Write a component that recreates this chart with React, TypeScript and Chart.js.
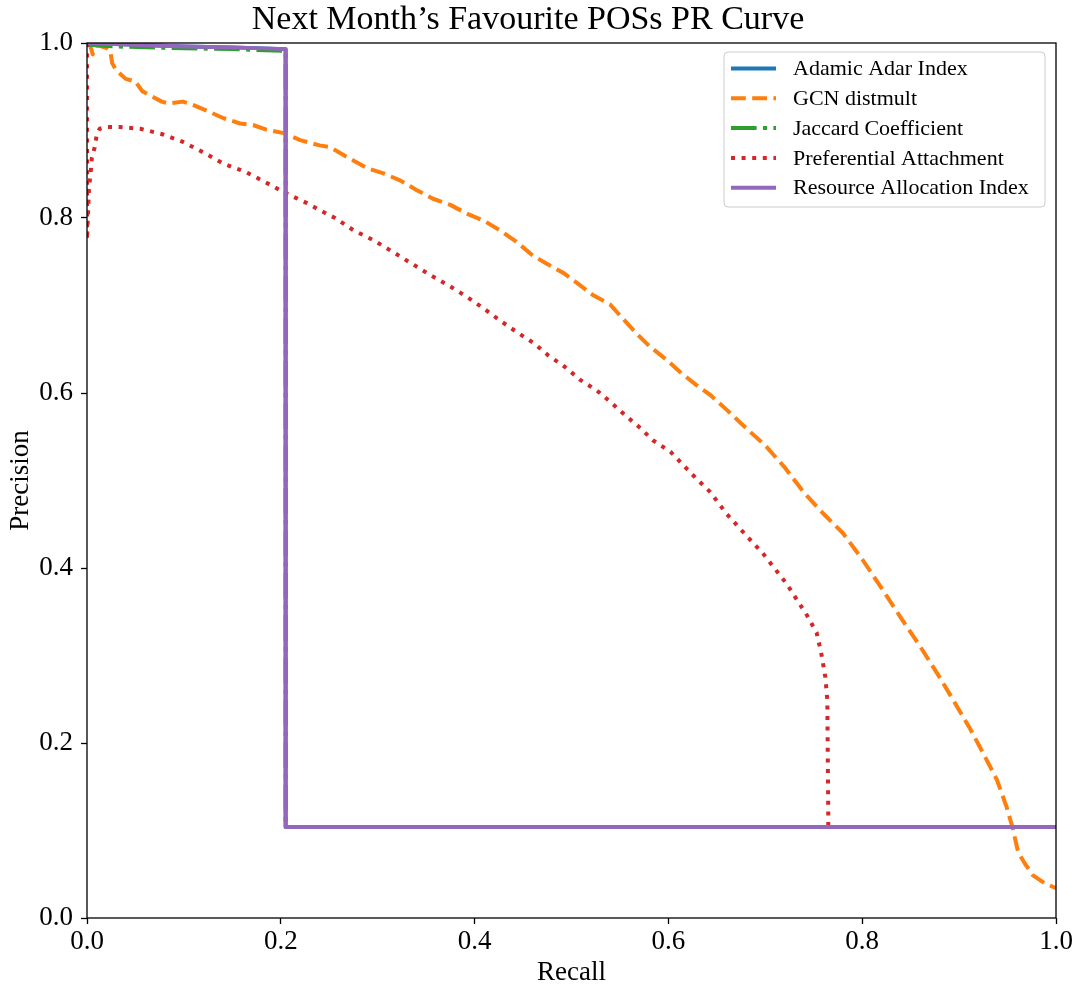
import { useEffect, useRef } from "react";
import { Chart, registerables } from "chart.js";

Chart.register(...registerables);

const FONT = '"Liberation Serif", "DejaVu Serif", serif';

const chartTitle = "Next Month\u2019s Favourite POSs PR Curve";
const xAxisTitle = "Recall";
const yAxisTitle = "Precision";
const tickValues = [0, 0.2, 0.4, 0.6, 0.8, 1.0];

const seriesNames = [
  "Adamic Adar Index",
  "GCN distmult",
  "Jaccard Coefficient",
  "Preferential Attachment",
  "Resource Allocation Index",
];
const seriesColors = ["#1f77b4", "#ff7f0e", "#2ca02c", "#d62728", "#9467bd"];

const adamicRecall = [0, 0.05, 0.1, 0.15, 0.205, 0.205, 1.0];
const adamicPrecision = [1.0, 0.998, 0.996, 0.995, 0.993, 0.104, 0.104];

const gcnRecall = [
  0, 0.003, 0.006, 0.01, 0.021, 0.024, 0.026, 0.029, 0.033, 0.04, 0.05, 0.057,
  0.067, 0.077, 0.084, 0.099, 0.11, 0.127, 0.141, 0.158, 0.172, 0.185, 0.203,
  0.22, 0.24, 0.251, 0.271, 0.289, 0.306, 0.323, 0.34, 0.357, 0.375, 0.392,
  0.411, 0.426, 0.443, 0.459, 0.474, 0.492, 0.509, 0.522, 0.54, 0.553, 0.567,
  0.581, 0.598, 0.612, 0.629, 0.643, 0.66, 0.68, 0.7, 0.72, 0.74, 0.76, 0.78,
  0.8, 0.82, 0.84, 0.86, 0.88, 0.894, 0.911, 0.925, 0.939, 0.949, 0.955, 0.961,
  0.968, 0.976, 0.988, 1.0,
];
const gcnPrecision = [
  1.0, 0.998, 0.987, 0.998, 0.994, 0.991, 0.977, 0.971, 0.966, 0.959, 0.956,
  0.945, 0.939, 0.933, 0.931, 0.933, 0.929, 0.921, 0.914, 0.908, 0.906, 0.901,
  0.897, 0.889, 0.883, 0.881, 0.868, 0.857, 0.851, 0.843, 0.832, 0.822, 0.815,
  0.805, 0.796, 0.786, 0.773, 0.758, 0.748, 0.737, 0.723, 0.712, 0.701, 0.685,
  0.668, 0.653, 0.638, 0.624, 0.609, 0.598, 0.581, 0.56, 0.54, 0.515, 0.486,
  0.462, 0.44, 0.41, 0.377, 0.343, 0.31, 0.275, 0.249, 0.217, 0.188, 0.158,
  0.127, 0.104, 0.075, 0.062, 0.049, 0.04, 0.034,
];

const jaccardRecall = [0, 0.03, 0.1, 0.15, 0.205, 0.205, 1.0];
const jaccardPrecision = [0.998, 0.996, 0.994, 0.993, 0.991, 0.104, 0.104];

const prefRecall = [
  0, 0, 0.002, 0.004, 0.005, 0.008, 0.01, 0.013, 0.02, 0.034, 0.055, 0.077,
  0.099, 0.12, 0.141, 0.163, 0.184, 0.204, 0.227, 0.247, 0.256, 0.275, 0.295,
  0.316, 0.335, 0.354, 0.373, 0.392, 0.409, 0.426, 0.443, 0.461, 0.476, 0.493,
  0.509, 0.526, 0.54, 0.555, 0.571, 0.584, 0.602, 0.615, 0.629, 0.643, 0.66,
  0.678, 0.698, 0.722, 0.733, 0.743, 0.753, 0.758, 0.762, 0.764, 0.765, 0.765,
  1.0,
];
const prefPrecision = [
  1.0, 0.775, 0.832, 0.855, 0.869, 0.881, 0.895, 0.902, 0.904, 0.904, 0.902,
  0.896, 0.887, 0.875, 0.862, 0.853, 0.841, 0.829, 0.817, 0.805, 0.8, 0.786,
  0.775, 0.761, 0.748, 0.735, 0.723, 0.71, 0.697, 0.683, 0.67, 0.657, 0.643,
  0.63, 0.615, 0.603, 0.59, 0.575, 0.56, 0.546, 0.533, 0.518, 0.502, 0.487,
  0.462, 0.44, 0.416, 0.382, 0.363, 0.346, 0.326, 0.301, 0.275, 0.249, 0.115,
  0.104, 0.104,
];

const resourceRecall = [0, 0.05, 0.1, 0.15, 0.205, 0.205, 1.0];
const resourcePrecision = [1.0, 0.998, 0.996, 0.995, 0.993, 0.104, 0.104];

const LW = 4;
const seriesDashes: number[][] = [
  [],
  [3.7 * LW, 1.6 * LW],
  [6.4 * LW, 1.6 * LW, 1 * LW, 1.6 * LW],
  [1 * LW, 1.65 * LW],
  [],
];

function zip(xs: number[], ys: number[]) {
  return xs.map((x, i) => ({ x, y: ys[i] }));
}

export default function App() {
  const ref = useRef<HTMLCanvasElement>(null);

  useEffect(() => {
    if (!ref.current) return;

    const allData = [
      zip(adamicRecall, adamicPrecision),
      zip(gcnRecall, gcnPrecision),
      zip(jaccardRecall, jaccardPrecision),
      zip(prefRecall, prefPrecision),
      zip(resourceRecall, resourcePrecision),
    ];

    const bgPlugin = {
      id: "bg",
      beforeDraw(chart: any) {
        const { ctx, width, height } = chart;
        ctx.save();
        ctx.fillStyle = "#ffffff";
        ctx.fillRect(0, 0, width, height);
        ctx.restore();
      },
    };

    const framePlugin = {
      id: "frame",
      afterDatasetsDraw(chart: any) {
        const { ctx, chartArea } = chart;
        ctx.save();
        ctx.strokeStyle = "#000000";
        ctx.lineWidth = 1.3;
        ctx.setLineDash([]);
        ctx.strokeRect(
          chartArea.left,
          chartArea.top,
          chartArea.right - chartArea.left,
          chartArea.bottom - chartArea.top
        );
        ctx.restore();
      },
    };

    const legendPlugin = {
      id: "mplLegend",
      afterDraw(chart: any) {
        const { ctx, chartArea } = chart;
        const boxRight = chartArea.right - 11;
        const boxLeft = boxRight - 321;
        const boxTop = chartArea.top + 9;
        const boxH = 155;
        const r = 4;
        ctx.save();
        ctx.beginPath();
        ctx.moveTo(boxLeft + r, boxTop);
        ctx.lineTo(boxRight - r, boxTop);
        ctx.quadraticCurveTo(boxRight, boxTop, boxRight, boxTop + r);
        ctx.lineTo(boxRight, boxTop + boxH - r);
        ctx.quadraticCurveTo(boxRight, boxTop + boxH, boxRight - r, boxTop + boxH);
        ctx.lineTo(boxLeft + r, boxTop + boxH);
        ctx.quadraticCurveTo(boxLeft, boxTop + boxH, boxLeft, boxTop + boxH - r);
        ctx.lineTo(boxLeft, boxTop + r);
        ctx.quadraticCurveTo(boxLeft, boxTop, boxLeft + r, boxTop);
        ctx.closePath();
        ctx.fillStyle = "rgba(255,255,255,0.8)";
        ctx.fill();
        ctx.strokeStyle = "#cccccc";
        ctx.lineWidth = 1;
        ctx.stroke();

        ctx.font = `22px ${FONT}`;
        ctx.textBaseline = "middle";
        ctx.textAlign = "left";
        for (let i = 0; i < seriesNames.length; i++) {
          const y = boxTop + 16.5 + i * 29.8;
          ctx.beginPath();
          ctx.setLineDash(seriesDashes[i]);
          ctx.lineDashOffset = 0;
          ctx.strokeStyle = seriesColors[i];
          ctx.lineWidth = LW;
          ctx.lineCap = "butt";
          ctx.moveTo(boxLeft + 7, y);
          ctx.lineTo(boxLeft + 52, y);
          ctx.stroke();
          ctx.setLineDash([]);
          ctx.fillStyle = "#000000";
          ctx.fillText(seriesNames[i], boxLeft + 69, y + 1);
        }
        ctx.restore();
      },
    };

    const datasets = seriesNames.map((name, i) => ({
      label: name,
      data: allData[i],
      borderColor: seriesColors[i],
      backgroundColor: seriesColors[i],
      borderWidth: LW,
      borderDash: seriesDashes[i],
      pointRadius: 0,
      pointHoverRadius: 0,
      tension: 0,
      fill: false,
      clip: 0,
      borderJoinStyle: "round" as const,
      order: seriesNames.length - 1 - i,
    }));

    const tickFont = { family: FONT, size: 27 };

    const chart = new Chart(ref.current, {
      type: "line",
      data: { datasets },
      plugins: [bgPlugin, framePlugin, legendPlugin],
      options: {
        responsive: false,
        animation: false,
        devicePixelRatio: 1,
        parsing: true,
        layout: { padding: { left: 0, right: 25, top: 0, bottom: 0 } },
        plugins: {
          legend: { display: false },
          tooltip: { enabled: false },
          title: {
            display: true,
            text: chartTitle,
            color: "#000000",
            font: { family: FONT, size: 34, weight: "normal", lineHeight: 1 },
            padding: { top: 3, bottom: 6 },
          },
        },
        scales: {
          x: {
            type: "linear",
            min: 0,
            max: 1,
            afterBuildTicks: (scale: any) => {
              scale.ticks = tickValues.map((v) => ({ value: v }));
            },
            afterFit: (scale: any) => {
              scale.height = 71;
            },
            ticks: {
              color: "#000000",
              font: tickFont,
              padding: 2,
              maxRotation: 0,
              autoSkip: false,
              callback: (v: any) => Number(v).toFixed(1),
            },
            grid: {
              display: true,
              drawOnChartArea: false,
              drawTicks: true,
              tickLength: 6,
              tickColor: "#000000",
              tickWidth: 1.3,
            },
            border: { display: false },
            title: {
              display: true,
              text: xAxisTitle,
              color: "#000000",
              font: { family: FONT, size: 27, lineHeight: 1.2 },
              padding: { top: 0, bottom: 0 },
            },
          },
          y: {
            type: "linear",
            min: 0,
            max: 1,
            afterBuildTicks: (scale: any) => {
              scale.ticks = tickValues.map((v) => ({ value: v }));
            },
            afterFit: (scale: any) => {
              scale.width = 87;
            },
            ticks: {
              color: "#000000",
              font: tickFont,
              padding: 8,
              autoSkip: false,
              callback: (v: any) => Number(v).toFixed(1),
            },
            grid: {
              display: true,
              drawOnChartArea: false,
              drawTicks: true,
              tickLength: 6,
              tickColor: "#000000",
              tickWidth: 1.3,
            },
            border: { display: false },
            title: {
              display: true,
              text: yAxisTitle,
              color: "#000000",
              font: { family: FONT, size: 27, lineHeight: 1.2 },
              padding: { top: 5, bottom: 0 },
            },
          },
        },
      },
    });

    return () => chart.destroy();
  }, []);

  return (
    <div
      style={{
        position: "fixed",
        left: 0,
        top: 0,
        width: 1081,
        height: 989,
        background: "#ffffff",
      }}
    >
      <canvas ref={ref} width={1081} height={989} style={{ display: "block" }} />
    </div>
  );
}
